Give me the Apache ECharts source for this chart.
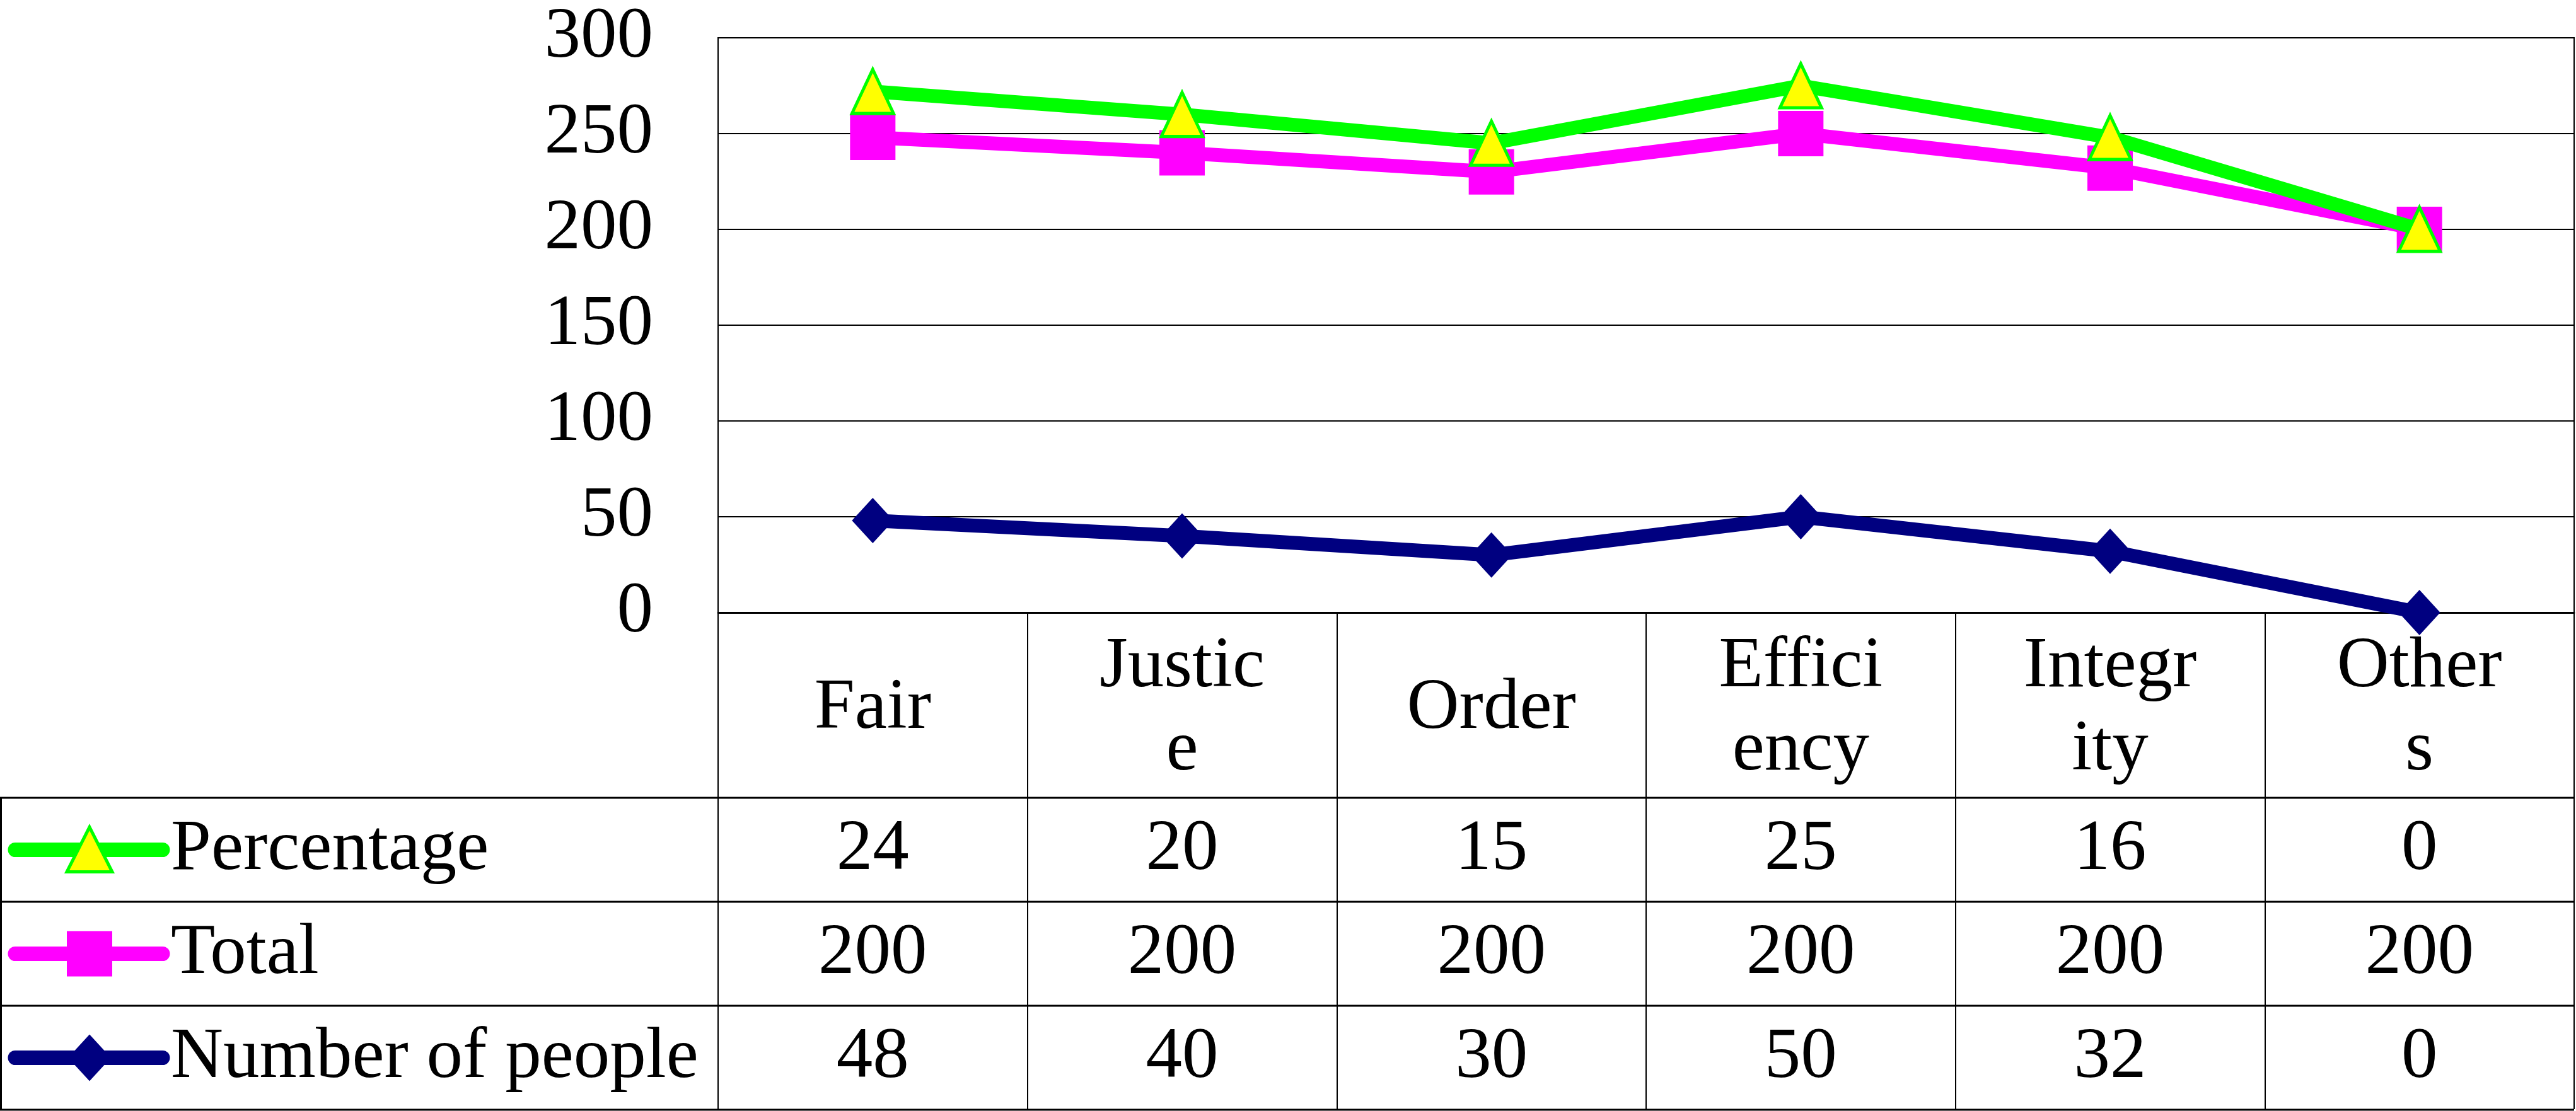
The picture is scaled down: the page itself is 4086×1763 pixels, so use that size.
<!DOCTYPE html>
<html>
<head>
<meta charset="utf-8">
<script src="https://cdn.jsdelivr.net/npm/echarts@6/dist/echarts.min.js"></script>
<style>
html,body{margin:0;padding:0;background:#fff;}
#c{width:4086px;height:1763px;}
</style>
</head>
<body>
<div id="c"></div>
<script>
// ---- data ----
const categories = ['Fair', 'Justic\ne', 'Order', 'Effici\nency', 'Integr\nity', 'Other\ns'];
const seriesNames = ['Percentage', 'Total', 'Number of people'];
const percentage = [24, 20, 15, 25, 16, 0];
const total = [200, 200, 200, 200, 200, 200];
const numberOfPeople = [48, 40, 30, 50, 32, 0];
const yMin = 0, yMax = 300, yStep = 50;

// ---- layout / style ----
const W = 4086, H = 1763;
const GL = 1139, GR = 4083, GT = 60, GB = 972;
const CAT_ROW_H = 294, ROW_H = 165;
const FONT = '"Liberation Serif", "Times New Roman", serif';
const FS = 115;
const LW = 22;
const colors = { pct: '#00FF00', pctFill: '#FFFF00', total: '#FF00FF', num: '#000080' };

const rowValues = [percentage, total, numberOfPeople];
const rowTop0 = GB + CAT_ROW_H;

const chart = echarts.init(document.getElementById('c'), null, { renderer: 'canvas' });

const xAxes = [{
  type: 'category',
  data: categories,
  boundaryGap: true,
  position: 'bottom',
  axisLine: { show: true, lineStyle: { color: '#000', width: 3 } },
  axisTick: { show: true, interval: 0, inside: false, length: H - 3 - GB, lineStyle: { color: '#000', width: 2 } },
  axisLabel: {
    interval: 0, margin: CAT_ROW_H / 2 + 6, verticalAlign: 'middle',
    fontFamily: FONT, fontSize: FS, color: '#000', lineHeight: 132, hideOverlap: false
  },
  splitLine: { show: false }
}];
rowValues.forEach((vals, i) => {
  xAxes.push({
    type: 'category',
    data: categories,
    boundaryGap: true,
    position: 'bottom',
    offset: CAT_ROW_H + ROW_H * i + ROW_H / 2,
    axisLine: { show: false },
    axisTick: { show: false },
    splitLine: { show: false },
    axisLabel: {
      interval: 0, margin: 0, verticalAlign: 'middle',
      fontFamily: FONT, fontSize: FS, color: '#000', hideOverlap: false,
      formatter: (v, idx) => String(vals[idx])
    }
  });
});

// table lines and legend keys
const graphics = [];
for (let r = 0; r <= 3; r++) {
  const y = rowTop0 + ROW_H * r;
  graphics.push({ type: 'line', shape: { x1: 0, y1: y, x2: GR, y2: y }, style: { stroke: '#000', lineWidth: 3 }, z: 10 });
}
graphics.push({ type: 'line', shape: { x1: 1.5, y1: rowTop0, x2: 1.5, y2: rowTop0 + ROW_H * 3 }, style: { stroke: '#000', lineWidth: 3 }, z: 10 });

const keyColors = [colors.pct, colors.total, colors.num];
seriesNames.forEach((name, i) => {
  const cy = rowTop0 + ROW_H * i + ROW_H / 2;
  graphics.push({ type: 'line', shape: { x1: 24, y1: cy, x2: 258, y2: cy }, style: { stroke: keyColors[i], lineWidth: 23, lineCap: 'round' }, z: 11 });
  if (i === 0) {
    graphics.push({ type: 'polygon', shape: { points: [[142, cy - 36], [106, cy + 35], [178, cy + 35]] }, style: { fill: colors.pctFill, stroke: colors.pct, lineWidth: 5 }, z: 12 });
  } else if (i === 1) {
    graphics.push({ type: 'rect', shape: { x: 106, y: cy - 36, width: 72, height: 72 }, style: { fill: colors.total }, z: 12 });
  } else {
    graphics.push({ type: 'polygon', shape: { points: [[142, cy - 37], [176, cy], [142, cy + 37], [108, cy]] }, style: { fill: colors.num }, z: 12 });
  }
  graphics.push({ type: 'text', style: { text: name, x: 271, y: cy, font: FS + 'px ' + FONT, verticalAlign: 'middle', align: 'left', fill: '#000' }, z: 12 });
});

const option = {
  backgroundColor: '#fff',
  animation: false,
  grid: {
    left: GL, right: W - GR, top: GT, bottom: H - GB,
    show: true, borderColor: '#000', borderWidth: 2, backgroundColor: 'transparent',
    containLabel: false, outerBoundsMode: 'none'
  },
  xAxis: xAxes,
  yAxis: {
    type: 'value', min: yMin, max: yMax, interval: yStep,
    axisLine: { show: true, lineStyle: { color: '#000', width: 2 } },
    axisTick: { show: false },
    splitLine: { show: true, lineStyle: { color: '#000', width: 2 } },
    axisLabel: { margin: 103, fontFamily: FONT, fontSize: FS, color: '#000' }
  },
  legend: { show: false },
  series: [
    {
      name: seriesNames[2], type: 'line', stack: 'all', data: numberOfPeople,
      symbol: 'diamond', symbolSize: [66, 72],
      lineStyle: { color: colors.num, width: LW },
      itemStyle: { color: colors.num },
      z: 3
    },
    {
      name: seriesNames[1], type: 'line', stack: 'all', data: total,
      symbol: 'rect', symbolSize: 72,
      lineStyle: { color: colors.total, width: LW },
      itemStyle: { color: colors.total },
      z: 4
    },
    {
      name: seriesNames[0], type: 'line', stack: 'all', data: percentage,
      symbol: 'triangle', symbolSize: [66, 70],
      lineStyle: { color: colors.pct, width: LW },
      itemStyle: { color: colors.pctFill, borderColor: colors.pct, borderWidth: 5 },
      z: 5
    }
  ],
  graphic: graphics
};
chart.setOption(option);
</script>
</body>
</html>
